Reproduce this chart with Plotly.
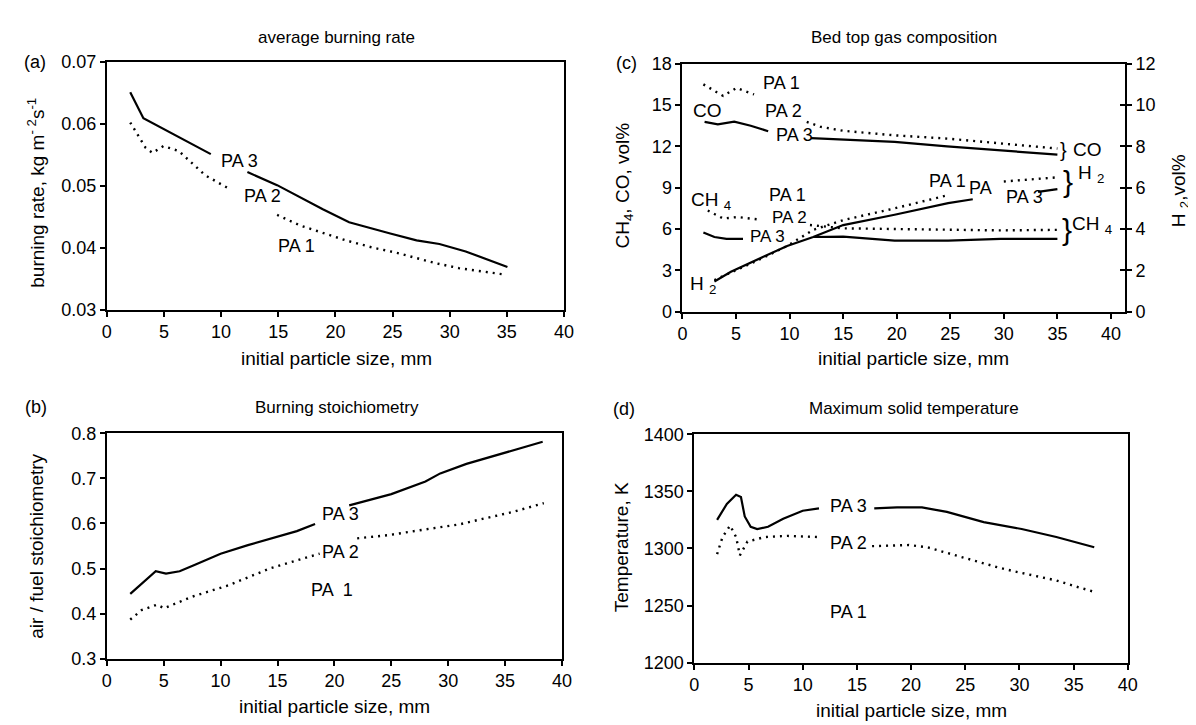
import plotly.graph_objects as go

# ---------------- data ----------------
# (a) average burning rate
a_pa3_x = [2.05, 3.2, 9.1, None, 12.3, 14.9, 18.9, 21.2, 24.8, 27.1, 29.1, 31.4, 35.05]
a_pa3_y = [0.0651, 0.0609, 0.0551, None, 0.0522, 0.0501, 0.0462, 0.0441, 0.0423, 0.0412, 0.0406, 0.0394, 0.0369]
a_pa2_x = [2.05, 3.4, 4.0, 4.95, 6.3, 8.6, 10.8, None, 14.9, 16.9, 20.9, 23.3, 25.1, 28.8, 30.8, 32.7, 34.7]
a_pa2_y = [0.0602, 0.0561, 0.0553, 0.0564, 0.0556, 0.0517, 0.0494, None, 0.0453, 0.0436, 0.0412, 0.0400, 0.0393, 0.0375, 0.0367, 0.0362, 0.0357]

# (b) burning stoichiometry
b_pa3_x = [2.06, 4.3, 5.2, 6.4, 7.7, 10.0, 12.4, 15.0, 16.7, 18.3, None, 21.3, 25.0, 28.0, 29.3, 31.6, 35.0, 38.3]
b_pa3_y = [0.444, 0.494, 0.489, 0.494, 0.508, 0.533, 0.552, 0.571, 0.583, 0.599, None, 0.640, 0.665, 0.693, 0.711, 0.732, 0.757, 0.781]
b_pa2_x = [2.06, 3.06, 4.4, 5.05, 7.4, 10.7, 14.4, 17.3, 18.7, None, 22.0, 24.7, 28.3, 31.0, 33.0, 35.6, 38.4]
b_pa2_y = [0.387, 0.408, 0.420, 0.412, 0.437, 0.463, 0.501, 0.522, 0.533, None, 0.567, 0.574, 0.588, 0.598, 0.610, 0.625, 0.645]

# (c) bed top gas composition (CO, CH4 on left axis; H2 on right axis)
co_dot_x = [1.95, 3.8, 5.04, 6.68, None, 11.6, 12.85, 15.0, 19.8, 24.8, 29.7, 35.0]
co_dot_y = [16.5, 15.66, 16.24, 15.77, None, 13.78, 13.43, 13.13, 12.8, 12.56, 12.19, 11.84]
co_sol_x = [2.06, 3.3, 4.83, 6.37, 8.0, None, 12.0, 15.2, 19.8, 24.7, 29.6, 35.0]
co_sol_y = [13.78, 13.6, 13.8, 13.5, 13.1, None, 12.6, 12.5, 12.33, 12.0, 11.7, 11.4]
ch4_dot_x = [2.36, 3.8, 5.14, 7.0, None, 11.9, 15.0, 19.8, 24.8, 29.7, 35.0]
ch4_dot_y = [7.34, 6.76, 6.87, 6.7, None, 6.29, 6.05, 6.0, 5.94, 5.9, 5.94]
ch4_sol_x = [1.95, 2.98, 4.11, 5.65, None, 12.2, 15.0, 19.8, 24.8, 29.7, 35.0]
ch4_sol_y = [5.75, 5.42, 5.28, 5.28, None, 5.42, 5.44, 5.16, 5.16, 5.28, 5.28]
h2_sol_x = [2.98, 4.52, 7.6, 9.77, 12.2, 15.0, 19.8, 24.8, 27.1, None, 33.2, 35.0]
h2_sol_y = [1.46, 1.93, 2.67, 3.18, 3.61, 4.19, 4.69, 5.25, 5.44, None, 5.8, 5.93]
h2_dot_x = [2.98, 7.3, 9.77, 12.2, 15.0, 19.8, 24.8, None, 30.0, 35.0]
h2_dot_y = [1.53, 2.55, 3.18, 3.96, 4.43, 5.0, 5.64, None, 6.3, 6.5]

# (d) maximum solid temperature
d_pa3_x = [2.1, 3.0, 3.85, 4.3, 4.65, 5.2, 5.8, 6.8, 8.2, 10.0, 11.5, None, 16.6, 18.7, 21.0, 23.3, 26.7, 30.2, 33.4, 36.9]
d_pa3_y = [1325, 1339, 1347, 1345, 1328, 1319, 1317, 1319, 1326, 1333, 1335, None, 1335, 1336, 1336, 1332, 1323, 1317, 1310, 1301]
d_pa2_x = [2.1, 2.6, 3.3, 3.85, 4.2, 4.9, 6.5, 8.6, 11.4, None, 16.4, 19.8, 21.5, 23.3, 26.4, 27.8, 29.5, 31.3, 33.4, 35.1, 36.9]
d_pa2_y = [1295, 1310, 1320, 1310, 1294, 1306, 1310, 1311, 1310, None, 1302, 1303, 1301, 1296, 1288, 1284, 1280, 1276, 1272, 1267, 1262]

x_ticks = [0, 5, 10, 15, 20, 25, 30, 35, 40]

# ---------------- figure ----------------
W, H = 1196, 725
FONT = "Liberation Sans, Arial, sans-serif"
TICKF = dict(family=FONT, size=18, color="black")


def px(v):
    return v / W


def py(v):
    return 1 - v / H


fig = go.Figure()

SOLID = dict(color="black", width=2.2)
DOT = dict(color="black", width=2.4, dash="2px,5px")


def add(x, y, line, xa, ya):
    fig.add_trace(go.Scatter(x=x, y=y, mode="lines", line=line, xaxis=xa, yaxis=ya,
                             connectgaps=False, showlegend=False, hoverinfo="skip"))


add(a_pa3_x, a_pa3_y, SOLID, "x", "y")
add(a_pa2_x, a_pa2_y, DOT, "x", "y")
add(co_dot_x, co_dot_y, DOT, "x2", "y2")
add(co_sol_x, co_sol_y, SOLID, "x2", "y2")
add(ch4_dot_x, ch4_dot_y, DOT, "x2", "y2")
add(ch4_sol_x, ch4_sol_y, SOLID, "x2", "y2")
add(h2_sol_x, h2_sol_y, SOLID, "x2", "y5")
add(h2_dot_x, h2_dot_y, DOT, "x2", "y5")
add(b_pa3_x, b_pa3_y, SOLID, "x3", "y3")
add(b_pa2_x, b_pa2_y, DOT, "x3", "y3")
add(d_pa3_x, d_pa3_y, SOLID, "x4", "y4")
add(d_pa2_x, d_pa2_y, DOT, "x4", "y4")

AX = dict(showline=True, linecolor="black", linewidth=2, mirror=True, ticks="outside",
          ticklen=5, tickwidth=2, tickcolor="black", showgrid=False, zeroline=False,
          tickfont=TICKF)
XAX = dict(AX, range=[0, 40], tickvals=x_ticks)

fig.update_layout(
    width=W, height=H, margin=dict(l=0, r=0, t=0, b=0),
    paper_bgcolor="white", plot_bgcolor="white",
    font=dict(family=FONT, color="black", size=18),
    xaxis=dict(XAX, domain=[px(95), px(558)], anchor="y"),
    yaxis=dict(AX, domain=[py(300), py(45)], anchor="x", range=[0.03, 0.07],
               tickvals=[0.03, 0.04, 0.05, 0.06, 0.07], ticktext=["0.03", "0.04", "0.05", "0.06", "0.07"]),
    xaxis2=dict(XAX, domain=[px(678), px(1126)], anchor="y2", range=[0, 41.3]),
    yaxis2=dict(AX, domain=[py(302), py(47)], anchor="x2", range=[0, 18],
                tickvals=[0, 3, 6, 9, 12, 15, 18]),
    yaxis5=dict(AX, overlaying="y2", side="right", anchor="x2", range=[0, 12],
                tickvals=[0, 2, 4, 6, 8, 10, 12], mirror=False),
    yaxis6=dict(overlaying="y2", side="right", anchor="x2", range=[0, 12],
                tickvals=[0, 2, 4, 6, 8, 10, 12], showline=False, ticks="inside",
                ticklen=5, tickwidth=2, tickcolor="black", showticklabels=False,
                showgrid=False, zeroline=False),
    xaxis3=dict(XAX, domain=[px(95), px(556)], anchor="y3"),
    yaxis3=dict(AX, domain=[py(659), py(427)], anchor="x3", range=[0.3, 0.8],
                tickvals=[0.3, 0.4, 0.5, 0.6, 0.7, 0.8]),
    xaxis4=dict(XAX, domain=[px(690), px(1129)], anchor="y4"),
    yaxis4=dict(AX, domain=[py(663), py(428)], anchor="x4", range=[1200, 1400],
                tickvals=[1200, 1250, 1300, 1350, 1400]),
)

# invisible trace so the inside-tick overlay axis is drawn
fig.add_trace(go.Scatter(x=[None], y=[None], xaxis="x2", yaxis="y6", showlegend=False, hoverinfo="skip"))

# gap in the left axis of (c) behind the "CO" label
fig.add_shape(type="line", xref="x2", yref="y2", x0=0, x1=0, y0=13.95, y1=14.85,
              line=dict(color="white", width=5), layer="above")

ann = []


def note(text, x, y, xref="paper", yref="paper", size=18, angle=0, xanchor="center", yanchor="middle"):
    ann.append(dict(text=text, x=x, y=y, xref=xref, yref=yref, showarrow=False,
                    font=dict(family=FONT, size=size, color="black"), textangle=angle,
                    xanchor=xanchor, yanchor=yanchor))


# panel titles and letters
note("average burning rate", px(328), py(20), size=17)
note("Bed top gas composition", px(902), py(20), size=17)
note("Burning stoichiometry", px(328), py(401), size=17)
note("Maximum solid temperature", px(912), py(402), size=17)
note("(a)", px(22), py(45), size=18)
note("(c)", px(621), py(46), size=18)
note("(b)", px(23), py(400), size=18)
note("(d)", px(619), py(402), size=18)

# axis titles
note("initial particle size, mm", px(328), py(350), size=19)
note("initial particle size, mm", px(912), py(350), size=19)
note("initial particle size, mm", px(326), py(708), size=19)
note("initial particle size, mm", px(910), py(712), size=19)
note("burning rate, kg m<sup>- 2</sup>s<sup>-1</sup>", px(23), py(180), size=19, angle=-90)
note("CH<sub>4</sub>, CO, vol%", px(619), py(172), size=19, angle=-90)
note("H <sub>2</sub>,vol%", px(1182), py(178), size=19, angle=-90)
note("air / fuel stoichiometry", px(23), py(543), size=19, angle=-90)
note("Temperature, K", px(617), py(544), size=19, angle=-90)

# (a) labels
note("PA 3", 11.6, 0.0540, "x", "y")
note("PA 2", 13.6, 0.0484, "x", "y")
note("PA 1", 16.6, 0.0402, "x", "y")
# (b) labels
note("PA 3", 20.5, 0.622, "x3", "y3")
note("PA 2", 20.5, 0.537, "x3", "y3")
note("PA  1", 19.8, 0.452, "x3", "y3")
# (d) labels
note("PA 3", 14.2, 1337, "x4", "y4")
note("PA 2", 14.2, 1305, "x4", "y4")
note("PA 1", 14.2, 1244, "x4", "y4")
# (c) labels
note("CO", 2.3, 14.6, "x2", "y2", size=19)
note("PA 1", 9.25, 16.6, "x2", "y2")
note("PA 2", 9.46, 14.55, "x2", "y2")
note("PA 3", 10.5, 12.85, "x2", "y2")
note("CH <sub>4</sub>", 2.7, 8.0, "x2", "y2", size=19)
note("PA 1", 9.77, 8.5, "x2", "y2")
note("PA 2", 10.0, 6.85, "x2", "y2", size=17)
note("PA 3", 7.9, 5.45, "x2", "y2", size=17)
note("H <sub>2</sub>", 1.95, 1.95, "x2", "y2", size=19)
note("PA 1", 24.7, 9.45, "x2", "y2")
note("PA", 27.8, 9.0, "x2", "y2")
note("PA 3", 31.9, 8.3, "x2", "y2")
note("}", 35.1, 11.75, "x2", "y2", size=20, xanchor="left")
note("CO", 36.3, 11.8, "x2", "y2", size=19, xanchor="left")
note("}", 35.3, 9.45, "x2", "y2", size=30, xanchor="left")
note("H <sub>2</sub>", 36.7, 10.0, "x2", "y2", size=19, xanchor="left")
note("}", 35.2, 5.95, "x2", "y2", size=30, xanchor="left")
note("CH <sub>4</sub>", 36.2, 6.3, "x2", "y2", size=19, xanchor="left")

fig.update_layout(annotations=ann)

fig.write_html("out.html")
